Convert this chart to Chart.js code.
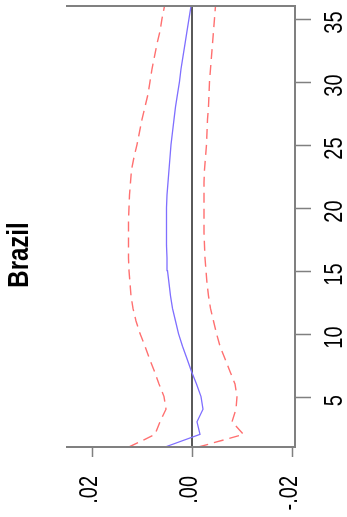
<!DOCTYPE html>
<html>
<head>
<meta charset="utf-8">
<title>Brazil</title>
<script src="https://cdn.jsdelivr.net/npm/chart.js@4.4.1/dist/chart.umd.min.js"></script>
<style>
  html, body { margin: 0; padding: 0; background: #ffffff; }
  #wrap { position: relative; width: 347px; height: 517px; }
  #irf { display: block; width: 347px; height: 517px; }
</style>
</head>
<body>
<div id="wrap"><canvas id="irf" width="347" height="517"></canvas></div>
<script>
// Impulse response horizons (periods after the shock)
const HORIZON = [1, 2, 3, 4, 5, 6, 7, 8, 9, 10, 11, 12, 13, 14, 15, 16, 17, 18,
                 19, 20, 21, 22, 23, 24, 25, 26, 27, 28, 29, 30, 31, 32, 33, 34, 35, 36];

// Point estimate of the response
const RESPONSE = [0.0054, -0.0016, -0.0010, -0.0022, -0.0018, -0.0009, 0.0001, 0.0010,
                  0.0019, 0.0027, 0.0033, 0.0039, 0.0043, 0.0046, 0.0049, 0.0050,
                  0.0051, 0.0051, 0.0051, 0.0051, 0.0050, 0.0048, 0.0046, 0.0044,
                  0.0042, 0.0039, 0.0036, 0.0033, 0.0029, 0.0025, 0.0022, 0.0018,
                  0.0014, 0.0010, 0.0006, 0.0002];

// Upper confidence band
const UPPER_BAND = [0.0126, 0.0074, 0.0064, 0.0052, 0.0056, 0.0066, 0.0075, 0.0085,
                    0.0094, 0.0104, 0.0112, 0.0118, 0.0122, 0.0124, 0.0126, 0.0127,
                    0.0127, 0.0127, 0.0127, 0.0126, 0.0125, 0.0123, 0.0121, 0.0116,
                    0.0110, 0.0105, 0.0100, 0.0094, 0.0088, 0.0084, 0.0080, 0.0075,
                    0.0070, 0.0064, 0.0060, 0.0055];

// Lower confidence band
const LOWER_BAND = [-0.0013, -0.0103, -0.0080, -0.0088, -0.0090, -0.0086, -0.0076, -0.0066,
                    -0.0056, -0.0049, -0.0043, -0.0037, -0.0033, -0.0030, -0.0028, -0.0026,
                    -0.0025, -0.0024, -0.0024, -0.0024, -0.0024, -0.0024, -0.0025, -0.0027,
                    -0.0029, -0.0030, -0.0031, -0.0033, -0.0034, -0.0035, -0.0037, -0.0039,
                    -0.0041, -0.0043, -0.0045, -0.0047];

// Axis ticks and their printed labels
const VALUE_TICKS = [0.02, 0.00, -0.02];
const VALUE_TICK_LABELS = ['.02', '.00', '-.02'];
const HORIZON_TICKS = [5, 10, 15, 20, 25, 30, 35];
const HORIZON_TICK_LABELS = ['5', '10', '15', '20', '25', '30', '35'];

const TITLE = 'Brazil';
const FONT = '"Liberation Sans", Arial, Helvetica, sans-serif';
const FRAME = '#808080';

// Value on the horizontal axis, horizon on the vertical axis
const toPoints = (vals) => vals.map((v, i) => ({ x: v, y: HORIZON[i] }));
const zeroLine = [{ x: 0, y: HORIZON[0] }, { x: 0, y: HORIZON[HORIZON.length - 1] }];

// Draw text reading upward, slightly widened across its baseline
function upText(ctx, str, x, y, stretch) {
  ctx.save();
  ctx.translate(x, y);
  ctx.rotate(-Math.PI / 2);
  ctx.scale(1, stretch);
  ctx.fillText(str, 0, 0);
  ctx.restore();
}

// Open frame (top, right, bottom), outside tick marks, rotated labels and title
const decorations = {
  id: 'decorations',
  afterDraw(chart) {
    const { ctx, chartArea, scales } = chart;
    const xs = scales.x, ys = scales.y;
    const { left, right, top, bottom } = chartArea;
    ctx.save();
    ctx.strokeStyle = FRAME;
    ctx.lineWidth = 2;
    ctx.lineCap = 'square';
    ctx.beginPath();
    ctx.moveTo(left, top);
    ctx.lineTo(right, top);
    ctx.lineTo(right, bottom);
    ctx.lineTo(left, bottom);
    ctx.stroke();

    ctx.lineWidth = 1.5;
    ctx.lineCap = 'butt';
    ctx.beginPath();
    VALUE_TICKS.forEach((v) => {
      const px = Math.round(xs.getPixelForValue(v)) + 0.5;
      ctx.moveTo(px, bottom);
      ctx.lineTo(px, bottom + 10);
    });
    HORIZON_TICKS.forEach((h) => {
      const py = Math.round(ys.getPixelForValue(h)) + 0.5;
      ctx.moveTo(right, py);
      ctx.lineTo(right + 16, py);
    });
    ctx.stroke();

    ctx.fillStyle = '#000000';
    ctx.textBaseline = 'alphabetic';
    // value axis labels, ending just below the ticks
    ctx.font = '20px ' + FONT;
    ctx.textAlign = 'right';
    VALUE_TICKS.forEach((v, i) => {
      upText(ctx, VALUE_TICK_LABELS[i], xs.getPixelForValue(v) + 5, bottom + 29, 1.25);
    });

    // horizon axis labels, centred on the ticks
    ctx.textAlign = 'center';
    HORIZON_TICKS.forEach((h, i) => {
      upText(ctx, HORIZON_TICK_LABELS[i], right + 47, ys.getPixelForValue(h) + 4, 1.25);
    });

    // title
    ctx.font = 'bold 24px ' + FONT;
    upText(ctx, TITLE, 28, 255, 1.22);
    ctx.restore();
  }
};

new Chart(document.getElementById('irf'), {
  type: 'scatter',
  data: {
    datasets: [
      {
        label: 'zero',
        data: zeroLine,
        showLine: true,
        borderColor: '#5a5a5a',
        borderWidth: 2,
        pointRadius: 0,
        order: 4
      },
      {
        label: 'upper',
        data: toPoints(UPPER_BAND),
        showLine: true,
        borderColor: '#ff7070',
        borderWidth: 1.4,
        borderDash: [10, 6],
        pointRadius: 0,
        order: 2
      },
      {
        label: 'lower',
        data: toPoints(LOWER_BAND),
        showLine: true,
        borderColor: '#ff7070',
        borderWidth: 1.4,
        borderDash: [10, 6],
        pointRadius: 0,
        order: 2
      },
      {
        label: 'response',
        data: toPoints(RESPONSE),
        showLine: true,
        borderColor: '#7f6fff',
        borderWidth: 1.3,
        pointRadius: 0,
        order: 1
      }
    ]
  },
  options: {
    responsive: false,
    animation: false,
    devicePixelRatio: 1,
    layout: { padding: { left: 67, right: 36, top: 6, bottom: 60 } },
    plugins: {
      legend: { display: false },
      tooltip: { enabled: false },
      title: { display: false }
    },
    elements: { line: { tension: 0 } },
    scales: {
      x: {
        type: 'linear',
        position: 'bottom',
        reverse: true,
        min: -0.0206,
        max: 0.025,
        afterBuildTicks: (scale) => { scale.ticks = VALUE_TICKS.map(v => ({ value: v })); },
        ticks: { display: false },
        grid: { display: false, drawTicks: true, tickLength: 10 },
        border: { display: false }
      },
      y: {
        type: 'linear',
        position: 'right',
        min: 1,
        max: 36,
        afterBuildTicks: (scale) => { scale.ticks = HORIZON_TICKS.map(v => ({ value: v })); },
        ticks: { display: false },
        grid: { display: false, drawTicks: true, tickLength: 16 },
        border: { display: false }
      }
    }
  },
  plugins: [decorations]
});
</script>
</body>
</html>
